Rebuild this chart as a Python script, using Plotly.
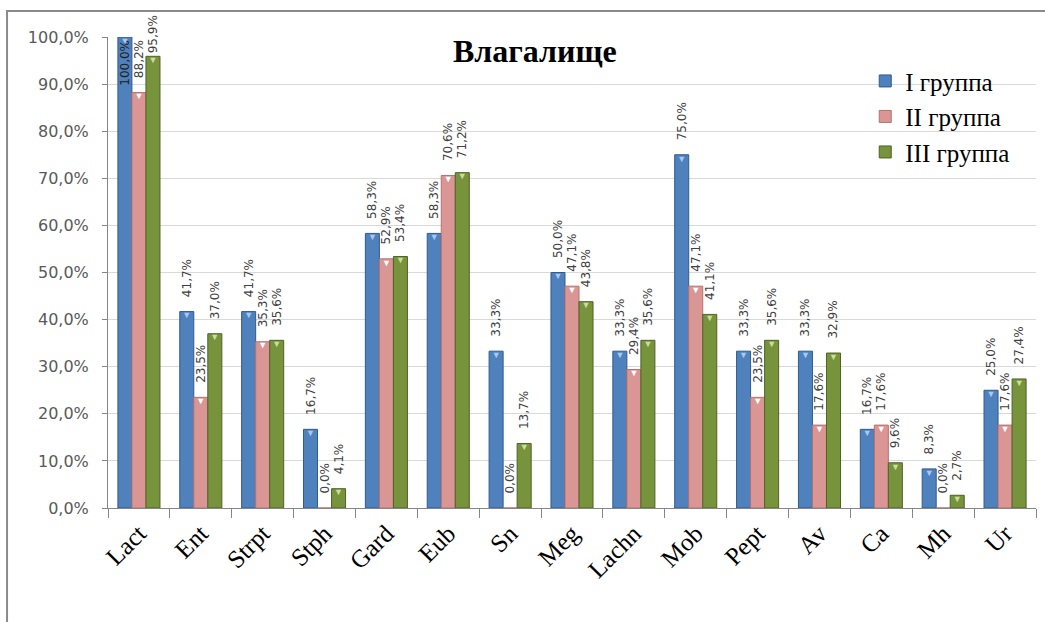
import plotly.graph_objects as go

# Частота выявления микроорганизмов (влагалище), %
categories = ["Lact", "Ent", "Strpt", "Stph", "Gard", "Eub", "Sn", "Meg",
              "Lachn", "Mob", "Pept", "Av", "Ca", "Mh", "Ur"]
group_1 = [100.0, 41.7, 41.7, 16.7, 58.3, 58.3, 33.3, 50.0, 33.3, 75.0, 33.3, 33.3, 16.7, 8.3, 25.0]
group_2 = [88.2, 23.5, 35.3, 0.0, 52.9, 70.6, 0.0, 47.1, 29.4, 47.1, 23.5, 17.6, 17.6, 0.0, 17.6]
group_3 = [95.9, 37.0, 35.6, 4.1, 53.4, 71.2, 13.7, 43.8, 35.6, 41.1, 35.6, 32.9, 9.6, 2.7, 27.4]
series_names = ["I группа", "II группа", "III группа"]
y_ticks = [0, 10, 20, 30, 40, 50, 60, 70, 80, 90, 100]

fills = ["#4F81BD", "#DA9694", "#77933C"]
edges = ["#2F5B8F", "#B9706E", "#4F6228"]
caps = ["#A9C8EE", "#FFFFFF", "#C9DE9E"]

BAR_GAP = 0.32
PAD = "\u00a0\u00a0\u00a0"  # lifts outside value labels off the bar tops


def pct(v):
    return f"{v:.1f}".replace(".", ",") + "%"


def label_templates(vals):
    # no extra lift for the tallest bars so their labels stay on the page
    return [("" if v > 90 else PAD) + "%{y:.1f}%" for v in vals]


fig = go.Figure()
for name, vals, fill, edge in zip(series_names, [group_1, group_2, group_3], fills, edges):
    fig.add_trace(go.Bar(
        x=categories, y=vals, name=name, offsetgroup=name,
        marker=dict(color=fill, line=dict(color=edge, width=1)),
        texttemplate=label_templates(vals),
        textposition=["inside" if v >= 99 else "outside" for v in vals],
        insidetextanchor="end",
        textangle=-90,
        textfont=dict(family="DejaVu Sans", size=12, color="#404040"),
        insidetextfont=dict(family="DejaVu Sans", size=12, color="#202020"),
        constraintext="none",
        cliponaxis=False,
        hoverinfo="skip",
    ))

# small bevel marks at the top of each bar
for name, vals, cap in zip(series_names, [group_1, group_2, group_3], caps):
    fig.add_trace(go.Scatter(
        x=categories, y=vals, mode="text", offsetgroup=name,
        text=["▼" if v > 0 else "" for v in vals],
        textposition="bottom center",
        textfont=dict(size=9, color=cap),
        showlegend=False, hoverinfo="skip", cliponaxis=False,
    ))

# outer chart frame (runs off the right and bottom edges)
fig.add_shape(type="rect", xref="paper", yref="paper",
              x0=-0.1088, x1=1.08, y0=-0.30, y1=1.0552,
              line=dict(color="#8A8A8A", width=2), layer="below")

fig.add_annotation(text="<b>Влагалище</b>", xref="paper", yref="paper",
                   x=0.46, y=0.97, xanchor="center", yanchor="middle", showarrow=False,
                   font=dict(family="Liberation Serif", size=32, color="#000000"))

fig.update_layout(
    width=1045, height=622,
    margin=dict(l=108, r=9, t=37, b=114),
    paper_bgcolor="white", plot_bgcolor="white",
    barmode="group", bargap=BAR_GAP, bargroupgap=0,
    scattermode="group", scattergap=BAR_GAP,
    separators=", ",
    showlegend=True,
    legend=dict(x=0.816, y=0.955, xanchor="left", yanchor="top",
                font=dict(family="Liberation Serif", size=25, color="#000000"),
                bgcolor="rgba(0,0,0,0)", tracegroupgap=0),
    xaxis=dict(type="category", showline=True, linecolor="#868686", linewidth=1,
               ticks="outside", tickson="boundaries", ticklen=9, tickcolor="#868686",
               tickangle=-45,
               tickfont=dict(family="Liberation Serif", size=25, color="#000000"),
               showgrid=False),
    yaxis=dict(range=[0, 100], tickvals=y_ticks, ticktext=[pct(t) for t in y_ticks],
               showgrid=True, gridcolor="#D9D9D9", gridwidth=1,
               showline=True, linecolor="#868686", linewidth=1,
               ticks="outside", ticklen=5, tickcolor="#868686", ticklabelstandoff=10,
               tickfont=dict(family="DejaVu Sans", size=16, color="#595959"),
               zeroline=False),
)

fig.write_html("out.html")
